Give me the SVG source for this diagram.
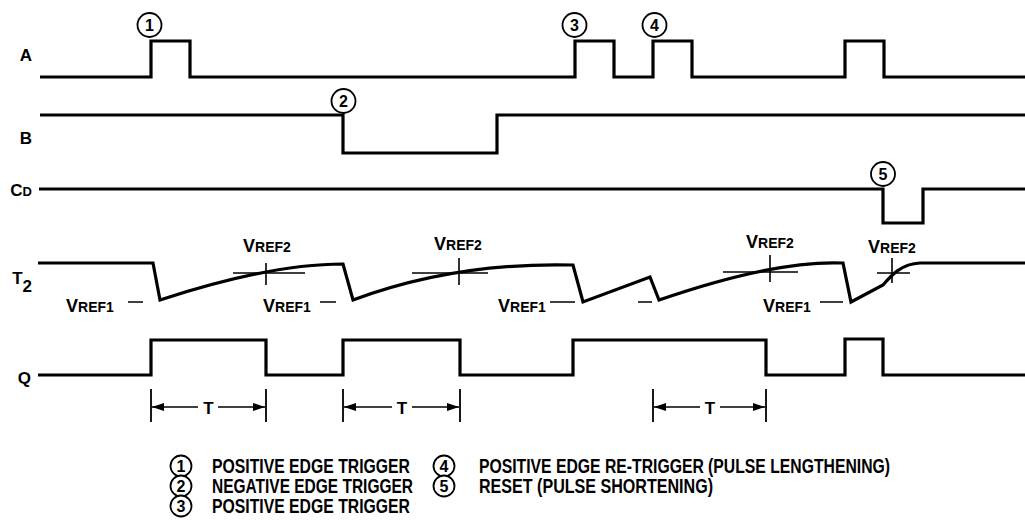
<svg xmlns="http://www.w3.org/2000/svg" width="1025" height="526" viewBox="0 0 1025 526">
<style>
  .wave { fill: none; stroke: #000; stroke-width: 3.2; stroke-linejoin: miter; stroke-linecap: butt; }
  .thin { fill: none; stroke: #000; stroke-width: 1.6; }
  .lbl { font-family: "Liberation Sans", Arial, sans-serif; font-weight: bold; fill: #000; }
  .sig { font-size: 17px; text-anchor: end; }
  .num { font-size: 16px; text-anchor: middle; }
  .leg { font-size: 20px; }
  .circ { fill: #fff; stroke: #000; stroke-width: 1.8; }
  .tick { stroke: #000; stroke-width: 1.8; }
  .arr { stroke: #000; stroke-width: 1.6; }
</style>
<defs>
  <marker id="ah" viewBox="0 0 12 8" refX="12" refY="4" markerWidth="12" markerHeight="8" markerUnits="userSpaceOnUse" orient="auto">
    <path d="M0,0 L12,4 L0,8 Z" fill="#000"/>
  </marker>
</defs>
<rect width="1025" height="526" fill="#fff"/>

<g id="signal-labels" class="lbl">
  <text class="sig" x="32" y="61">A</text>
  <text class="sig" x="32" y="144">B</text>
  <text class="sig" x="32" y="196">C<tspan font-size="13">D</tspan></text>
  <text class="sig" x="32" y="284">T<tspan dy="8">2</tspan></text>
  <text class="sig" x="31" y="384">Q</text>
</g>

<g id="connectors">
  <path id="wave-A" class="wave" d="M40,77 H151 V41 H190 V77 H575 V41 H614 V77 H653 V41 H692 V77 H845 V41 H884 V77 H1025"/>
  <path id="wave-B" class="wave" d="M40,115 H343 V153 H497 V115 H1025"/>
  <path id="wave-CD" class="wave" d="M39,189 H883 V223 H923 V189 H1025"/>
  <path id="wave-T2" class="wave" d="M38,263 H153 L160,300 Q270,264 343,264 L353,300 Q455,262 573,265 L583,302 L650,277 L659,300 Q775,260 843,263 L851,302 L883,285 C890,277 900,264 920,263 H1025"/>
  <path id="wave-Q" class="wave" d="M38,375 H151 V340 H266 V375 H343 V340 H460 V375 H573 V340 H766 V375 H845 V339 H883 V375 H1025"/>
</g>

<g id="vref-marks">
  <path class="thin" d="M266,263 V285 M233,273 H305"/>
  <path class="thin" d="M459,258 V285 M412,273 H488"/>
  <path class="thin" d="M770,255 V282 M723,272 H798"/>
  <path class="thin" d="M892,258 V283 M877,273 H910"/>
  <path class="thin" d="M128,302 H143 M320,302 H336 M550,302 H575 M638,302 H652 M820,302 H843"/>
</g>

<g id="vref-labels" class="lbl">
  <text x="243" y="252" font-size="18">V<tspan font-size="14">REF2</tspan></text>
  <text x="434" y="250" font-size="18">V<tspan font-size="14">REF2</tspan></text>
  <text x="746" y="248" font-size="18">V<tspan font-size="14">REF2</tspan></text>
  <text x="868" y="253" font-size="18">V<tspan font-size="14">REF2</tspan></text>
  <text x="66" y="312" font-size="18">V<tspan font-size="14">REF1</tspan></text>
  <text x="263" y="312" font-size="18">V<tspan font-size="14">REF1</tspan></text>
  <text x="498" y="312" font-size="18">V<tspan font-size="14">REF1</tspan></text>
  <text x="763" y="312" font-size="18">V<tspan font-size="14">REF1</tspan></text>
</g>

<g id="event-markers">
  <g id="m1"><circle class="circ" cx="149.5" cy="25" r="12"/><text class="lbl num" x="149.5" y="31">1</text></g>
  <g id="m2"><circle class="circ" cx="343.5" cy="101" r="12"/><text class="lbl num" x="343.5" y="107">2</text></g>
  <g id="m3"><circle class="circ" cx="574.5" cy="25" r="12"/><text class="lbl num" x="574.5" y="31">3</text></g>
  <g id="m4"><circle class="circ" cx="654.5" cy="25" r="12"/><text class="lbl num" x="654.5" y="31">4</text></g>
  <g id="m5"><circle class="circ" cx="883" cy="174" r="12"/><text class="lbl num" x="883" y="180">5</text></g>
</g>

<g id="period-markers">
  <path class="tick" d="M151,389 V422 M266,389 V422 M343,389 V422 M460,389 V422 M653,389 V422 M766,389 V422"/>
  <line class="arr" x1="198" y1="407" x2="152" y2="407" marker-end="url(#ah)"/>
  <line class="arr" x1="218" y1="407" x2="265" y2="407" marker-end="url(#ah)"/>
  <text class="lbl" x="208.5" y="414" font-size="17" text-anchor="middle">T</text>
  <line class="arr" x1="392" y1="407" x2="344" y2="407" marker-end="url(#ah)"/>
  <line class="arr" x1="412" y1="407" x2="459" y2="407" marker-end="url(#ah)"/>
  <text class="lbl" x="402" y="414" font-size="17" text-anchor="middle">T</text>
  <line class="arr" x1="700" y1="407" x2="654" y2="407" marker-end="url(#ah)"/>
  <line class="arr" x1="720" y1="407" x2="765" y2="407" marker-end="url(#ah)"/>
  <text class="lbl" x="710" y="414" font-size="17" text-anchor="middle">T</text>
</g>

<g id="legend">
  <g id="leg1"><circle class="circ" cx="181" cy="466" r="10.5"/><text class="lbl num" x="181" y="471.5" font-size="15">1</text>
    <text class="lbl leg" x="212" y="473" textLength="198" lengthAdjust="spacingAndGlyphs">POSITIVE EDGE TRIGGER</text></g>
  <g id="leg2"><circle class="circ" cx="181" cy="486" r="10.5"/><text class="lbl num" x="181" y="491.5" font-size="15">2</text>
    <text class="lbl leg" x="212" y="493" textLength="201" lengthAdjust="spacingAndGlyphs">NEGATIVE EDGE TRIGGER</text></g>
  <g id="leg3"><circle class="circ" cx="181" cy="506" r="10.5"/><text class="lbl num" x="181" y="511.5" font-size="15">3</text>
    <text class="lbl leg" x="212" y="513" textLength="198" lengthAdjust="spacingAndGlyphs">POSITIVE EDGE TRIGGER</text></g>
  <g id="leg4"><circle class="circ" cx="444" cy="466" r="10.5"/><text class="lbl num" x="444" y="471.5" font-size="15">4</text>
    <text class="lbl leg" x="479" y="473" textLength="411" lengthAdjust="spacingAndGlyphs">POSITIVE EDGE RE-TRIGGER (PULSE LENGTHENING)</text></g>
  <g id="leg5"><circle class="circ" cx="444" cy="486" r="10.5"/><text class="lbl num" x="444" y="491.5" font-size="15">5</text>
    <text class="lbl leg" x="479" y="493" textLength="234" lengthAdjust="spacingAndGlyphs">RESET (PULSE SHORTENING)</text></g>
</g>
</svg>
